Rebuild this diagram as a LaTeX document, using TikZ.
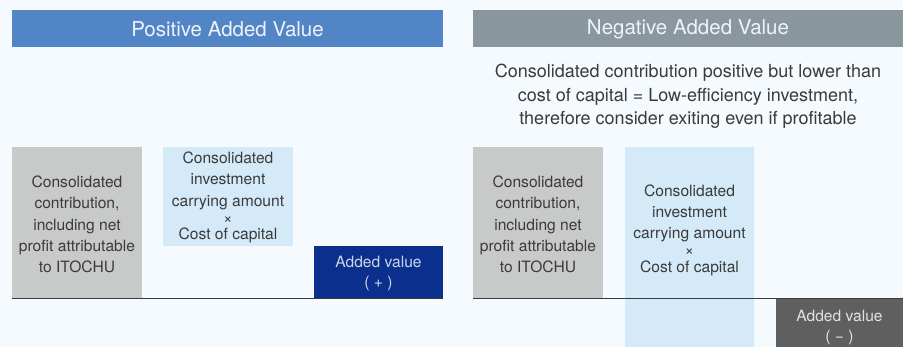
\documentclass[tikz,border=0pt]{standalone}
\usepackage{fontspec}
\setmainfont{TeX Gyre Heros}
\definecolor{bg}{HTML}{F5FAFE}
\definecolor{hdrblue}{HTML}{5285C6}
\definecolor{hdrgray}{HTML}{8A979F}
\definecolor{boxgray}{HTML}{C8C9C9}
\definecolor{lightblue}{HTML}{D4EAF8}
\definecolor{navy}{HTML}{0A2F8D}
\definecolor{darkgray}{HTML}{5F5F5F}
\definecolor{txt}{HTML}{3A3A3A}
\begin{document}
\begin{tikzpicture}[x=1pt,y=-1pt,
  header/.style={inner sep=0pt, minimum height=37.5pt, text=white!90!hdrblue, font=\fontsize{20.5}{24}\selectfont},
  bar/.style={inner sep=0pt, align=center, text=txt, font=\fontsize{15.6}{21.3}\selectfont},
  lbl/.style={inner sep=0pt, align=center, font=\fontsize{15.6}{20.5}\selectfont},
  base/.style={draw=txt, line width=1.1pt}]
\useasboundingbox (0,0) rectangle (903,347);
\fill[bg] (0,0) rectangle (903,347);
% headers
\node[header, fill=hdrblue, minimum width=431pt] (hpos) at (227.5,28.7) {};
\node[header, fill=hdrgray, minimum width=430pt] (hneg) at (688,28.7) {};
\node[header] (hpost) at (227.5,29) {Positive Added Value};
\node[header] (hnegt) at (688,29) {Negative Added Value};
\node[inner sep=0pt, align=center, text=txt, font=\fontsize{18}{23.5}\selectfont] (note) at (688,96.5)
  {Consolidated contribution positive but lower than\\ cost of capital = Low-efficiency investment,\\ therefore consider exiting even if profitable};
% left side
\node[fill=boxgray, inner sep=0pt, minimum width=130pt, minimum height=151.5pt] (lg) at (77,222.75) {};
\node[bar] (lgt) at (77,224.5)
  {Consolidated\\ contribution,\\ including net\\ profit attributable\\ to ITOCHU};
\node[fill=lightblue, inner sep=0pt, minimum width=130pt, minimum height=99pt] (lb) at (228,196.5) {};
\node[bar] (lbt) at (228,197.5)
  {Consolidated\\ investment\\ carrying amount\\[-4pt] ×\\[-5pt] Cost of capital};
\node[fill=navy, inner sep=0pt, minimum width=129pt, minimum height=52.5pt] (lv) at (378.5,272.25) {};
\node[lbl, text=white!80!navy] (lvt) at (378.5,273.5) {Added value\\ ( + )};
\coordinate (lbs) at (12,298.5);
\coordinate (lbe) at (443,298.5);
\draw[base] (lbs) -- (lbe);
% right side
\node[fill=boxgray, inner sep=0pt, minimum width=130pt, minimum height=151.5pt] (rg) at (538,222.75) {};
\node[bar] (rgt) at (538,224.5)
  {Consolidated\\ contribution,\\ including net\\ profit attributable\\ to ITOCHU};
\node[fill=lightblue, inner sep=0pt, minimum width=129pt, minimum height=200pt] (rb) at (689.5,247) {};
\node[bar] (rbt) at (689.5,230)
  {Consolidated\\ investment\\ carrying amount\\[-4pt] ×\\[-5pt] Cost of capital};
\node[fill=darkgray, inner sep=0pt, minimum width=127pt, minimum height=49pt] (rv) at (839.5,322.5) {};
\node[lbl, text=white!82!darkgray] (rvt) at (839.5,327.5) {Added value\\ ( − )};
\coordinate (rbs) at (473,298.5);
\coordinate (rbe) at (903,298.5);
\draw[base] (rbs) -- (rbe);
\end{tikzpicture}
\end{document}
